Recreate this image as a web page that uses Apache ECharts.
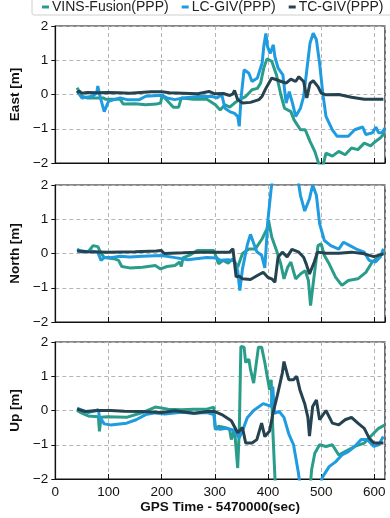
<!DOCTYPE html>
<html>
<head>
<meta charset="utf-8">
<script src="https://cdn.jsdelivr.net/npm/echarts@6/dist/echarts.min.js"></script>
<style>
  html, body { margin: 0; padding: 0; background: #fff; }
  #main { width: 390px; height: 518px; }
</style>
</head>
<body>
<div id="main"></div>
<script>
var seriesNames = ['VINS-Fusion(PPP)', 'LC-GIV(PPP)', 'TC-GIV(PPP)'];
var panelNames = ['East [m]', 'North [m]', 'Up [m]'];
var xTicks = [0, 100, 200, 300, 400, 500, 600];
var yTicks = [-2, -1, 0, 1, 2];

// East, [time, metres]
var eastVins = [[41,0.2],[50,-0.05],[60,-0.1],[90,-0.1],[95,-0.14],[122,-0.14],[128,-0.28],[150,-0.27],[170,-0.3],[190,-0.28],[198,-0.25],[201,-0.02],[206,-0.1],[222,-0.37],[232,-0.37],[237,-0.1],[260,-0.14],[285,-0.14],[301,-0.3],[310,-0.45],[319,-0.3],[328,-0.37],[337,-0.25],[346,-0.15],[358,-0.06],[370,0.14],[380,0.18],[386,0.33],[392,0.77],[398,1.04],[407,0.97],[416,0.57],[424,0],[431,-0.4],[443,-0.5],[449,-0.74],[461,-1.03],[470,-1.03],[479,-1.37],[488,-1.66],[496,-2.05],[503,-2.1],[509,-1.71],[521,-1.8],[533,-1.66],[545,-1.76],[557,-1.56],[569,-1.61],[581,-1.42],[593,-1.5],[602,-1.37],[611,-1.27],[620,-1.12]];
var eastLc = [[41,0.1],[50,-0.1],[70,-0.05],[78,0.05],[80,0.25],[84,-0.05],[92,-0.5],[100,-0.2],[122,-0.1],[135,-0.15],[158,-0.15],[170,-0.05],[200,-0.02],[210,-0.1],[225,-0.15],[240,-0.1],[268,-0.06],[295,-0.06],[304,-0.1],[313,0],[319,-0.4],[328,-0.5],[337,-0.55],[343,-0.64],[346,-0.93],[349,-0.15],[355,0.72],[364,0.62],[370,0.38],[380,0.48],[389,0.92],[392,1.4],[396,1.78],[399,1.4],[404,1.2],[410,1.45],[413,1.1],[419,0.77],[428,0.57],[434,-0.25],[440,0.08],[446,-0.25],[452,-0.64],[461,-0.4],[467,-0.06],[473,0.72],[479,1.5],[485,1.79],[491,1.6],[497,0.91],[503,0.04],[509,-0.64],[521,-1.03],[530,-1.22],[551,-1.22],[563,-1.03],[578,-0.95],[584,-1.17],[596,-1.12],[603,-0.95],[608,-1.12],[614,-1.12],[620,-0.98]];
var eastTc = [[41,0.05],[45,0.1],[50,0.04],[60,0.06],[80,0.05],[100,0.06],[120,0.05],[140,0.04],[160,0.06],[180,0.08],[200,0.08],[215,0.05],[240,0.04],[268,0.02],[289,0.09],[300,0.02],[316,0.03],[328,-0.03],[334,0.02],[337,0.12],[343,-0.15],[352,-0.25],[367,-0.23],[383,-0.15],[389,-0.05],[395,0.15],[407,0.48],[416,0.43],[425,0.38],[434,0.33],[443,0.45],[452,0.38],[458,0.52],[467,0.38],[473,-0.1],[479,0.33],[485,0.4],[494,0.23],[500,0.04],[509,-0.01],[533,0],[557,-0.08],[581,-0.14],[617,-0.14]];

// North
var northVins = [[41,0.09],[62,0.05],[71,0.23],[80,0.2],[85,0.04],[92,-0.12],[110,-0.15],[119,-0.2],[125,-0.38],[140,-0.42],[164,-0.4],[188,-0.35],[198,-0.45],[200,-0.42],[210,-0.38],[225,-0.35],[234,-0.25],[237,-0.38],[240,-0.13],[255,-0.03],[267,0.09],[285,0.09],[298,0.09],[307,-0.3],[316,-0.2],[325,-0.28],[334,-0.16],[343,-0.4],[352,0],[364,0.13],[376,0.13],[389,0.43],[398,0.72],[401,0.97],[407,0.48],[416,0.09],[424,-0.3],[430,-0.74],[437,-0.4],[443,-0.25],[452,-0.74],[461,-0.6],[470,-0.5],[476,-0.79],[480,-1.52],[484,-1.0],[488,-0.5],[494,0.23],[500,0.28],[506,-0.06],[515,-0.3],[527,-0.69],[539,-0.93],[551,-0.79],[569,-0.74],[584,-0.55],[596,-0.25],[611,-0.06],[620,0.04]];
var northLc = [[41,0.13],[50,0.04],[68,0.07],[80,0.04],[86,-0.2],[92,-0.12],[104,-0.12],[122,-0.08],[140,-0.1],[164,-0.08],[200,-0.06],[225,-0.12],[249,-0.18],[285,-0.12],[304,-0.13],[310,-0.2],[325,-0.18],[337,-0.22],[343,-0.5],[347,-1.08],[352,-0.45],[361,0.25],[367,0.56],[373,0.3],[379,0.05],[388,-0.05],[394,-0.42],[400,1.0],[406,1.9],[410,2.3],[430,2.6],[455,2.3],[461,1.7],[469,1.24],[478,1.6],[484,2.0],[491,1.7],[497,0.87],[506,0.38],[518,0.23],[533,0.13],[542,0.33],[554,0.23],[566,0.13],[581,0.04],[590,-0.2],[602,-0.25],[611,-0.1],[617,0.14]];
var northTc = [[41,0.07],[60,0.05],[100,0.04],[150,0.05],[190,0.07],[199,0.09],[205,0],[240,0.02],[268,0.04],[298,0.04],[328,0.04],[334,0.14],[340,-0.68],[346,-0.66],[352,-0.74],[367,-0.76],[385,-0.6],[391,-0.55],[400,-0.7],[407,-0.74],[413,-0.84],[419,-0.1],[427,0.04],[436,-0.1],[445,0.12],[457,0.05],[467,-0.11],[472,-0.31],[478,-0.6],[487,-0.25],[493,0.04],[509,0.01],[533,0.01],[557,0.04],[581,-0.01],[599,-0.09],[617,-0.01]];

// Up
var upVins = [[41,0.0],[50,-0.08],[62,-0.16],[81,-0.18],[83,-0.61],[86,-0.2],[98,-0.18],[134,-0.2],[164,-0.06],[188,0.1],[212,0.04],[237,0.02],[261,0.04],[285,0.04],[298,0.1],[301,-0.56],[307,-0.46],[322,-0.51],[328,-0.56],[331,-0.85],[337,-0.55],[343,-1.68],[346,-0.56],[349,1.87],[355,1.85],[358,1.4],[364,1.5],[367,1.2],[373,0.8],[382,1.85],[388,1.85],[394,1.4],[403,0.6],[406,0.9],[409,-0.56],[414,-2.3],[440,-2.6],[479,-2.3],[482,-1.73],[488,-1.25],[497,-1.0],[509,-1.05],[521,-1.0],[533,-1.3],[545,-1.2],[563,-1.05],[581,-0.95],[596,-0.71],[608,-0.52],[620,-0.42]];
var upLc = [[41,0.07],[62,-0.06],[81,0.02],[83,-0.18],[92,-0.39],[104,-0.42],[134,-0.37],[152,-0.27],[170,-0.12],[188,-0.07],[206,-0.1],[237,-0.05],[261,-0.08],[285,-0.06],[298,-0.12],[301,-0.52],[310,-0.55],[322,-0.52],[334,-0.57],[346,-0.8],[355,-0.47],[361,-0.21],[373,0],[391,0.2],[406,0.12],[409,0.7],[412,-0.08],[421,-0.03],[430,-0.2],[439,-0.68],[448,-1.0],[457,-1.8],[462,-2.4],[490,-2.5],[503,-1.93],[515,-1.64],[527,-1.5],[539,-1.3],[551,-1.2],[563,-1.05],[575,-0.85],[587,-0.85],[599,-1.05],[608,-1.0],[617,-0.76]];
var upTc = [[41,0.04],[56,-0.03],[80,0],[104,0],[130,-0.02],[164,-0.03],[200,-0.06],[225,-0.01],[261,-0.08],[285,-0.03],[300,-0.03],[313,-0.12],[331,-0.3],[343,-0.65],[352,-0.5],[358,-0.95],[370,-0.95],[379,-0.85],[388,-0.37],[394,-0.76],[403,-0.6],[409,-0.1],[418,0.47],[427,1.1],[430,1.43],[439,0.9],[448,0.9],[454,1.0],[460,0.6],[469,0.2],[475,-0.2],[478,-0.75],[484,0.12],[491,0.31],[497,-0.27],[509,0],[521,-0.37],[533,-0.42],[545,-0.27],[557,-0.2],[569,-0.37],[581,-0.52],[590,-0.8],[599,-0.95],[617,-0.95]];

var panelData = [
  [eastVins, eastLc, eastTc],
  [northVins, northLc, northTc],
  [upVins, upLc, upTc]
];
var colors = ['#2a9d8a', '#1f9be0', '#24424f'];

var myChart = echarts.init(document.getElementById('main'));

var fontFam = '"Liberation Sans", Arial, sans-serif';
var grids = [], xAxes = [], yAxes = [], series = [];
var tops = [26, 185, 342];

for (var i = 0; i < 3; i++) {
  grids.push({
    left: 42, right: 5, top: tops[i], height: 137,
    show: true, borderColor: '#111', borderWidth: 1.2
  });
  xAxes.push({
    type: 'value', gridIndex: i, min: 0, max: 620, interval: 100,
    axisLine: { show: true, onZero: false, lineStyle: { color: '#111', width: 1.2 } },
    axisTick: { show: true, inside: true, length: 5, lineStyle: { color: '#111' } },
    axisLabel: {
      show: i === 2, color: '#111', fontSize: 13.5, fontFamily: fontFam, margin: 6,
      showMaxLabel: false,
      formatter: function (v) { return xTicks.indexOf(v) >= 0 ? String(v) : ''; }
    },
    splitLine: { show: true, lineStyle: { color: '#b5b5b5', type: [4, 3], width: 1 } },
    name: i === 2 ? 'GPS Time - 5470000(sec)' : '',
    nameLocation: 'middle', nameGap: 19,
    nameTextStyle: { color: '#111', fontSize: 13.5, fontWeight: 'bold', fontFamily: fontFam }
  });
  yAxes.push({
    type: 'value', gridIndex: i, min: -2, max: 2, interval: 1,
    axisLine: { show: true, lineStyle: { color: '#111', width: 1.2 } },
    axisTick: { show: true, inside: false, length: 4, lineStyle: { color: '#111' } },
    axisLabel: {
      color: '#111', fontSize: 13.5, fontFamily: fontFam, margin: 7,
      formatter: function (v) { return String(v).replace('-', '\u2212'); }
    },
    splitLine: { show: true, lineStyle: { color: '#b5b5b5', type: [4, 3], width: 1 } },
    name: panelNames[i], nameLocation: 'middle', nameGap: 22,
    nameTextStyle: { color: '#111', fontSize: 13.5, fontWeight: 'bold', fontFamily: fontFam }
  });
  for (var s = 0; s < 3; s++) {
    series.push({
      name: seriesNames[s], type: 'line', xAxisIndex: i, yAxisIndex: i,
      data: panelData[i][s], symbol: 'none', clip: true,
      lineStyle: { color: colors[s], width: 3 },
      itemStyle: { color: colors[s] }
    });
  }
}

var option = {
  animation: false,
  backgroundColor: '#fff',
  legend: {
    data: seriesNames, left: 32, top: -1, width: 600,
    padding: [1, 10, 1, 10], itemGap: 13,
    itemWidth: 7, itemHeight: 3, icon: 'rect',
    borderColor: '#cfcfcf', borderWidth: 1, borderRadius: 2,
    textStyle: { color: '#222', fontSize: 14, fontFamily: fontFam, padding: [0, 0, 0, -2] }
  },
  grid: grids,
  xAxis: xAxes,
  yAxis: yAxes,
  series: series
};

myChart.setOption(option);
window.addEventListener('resize', function () { myChart.resize(); });
</script>
</body>
</html>
